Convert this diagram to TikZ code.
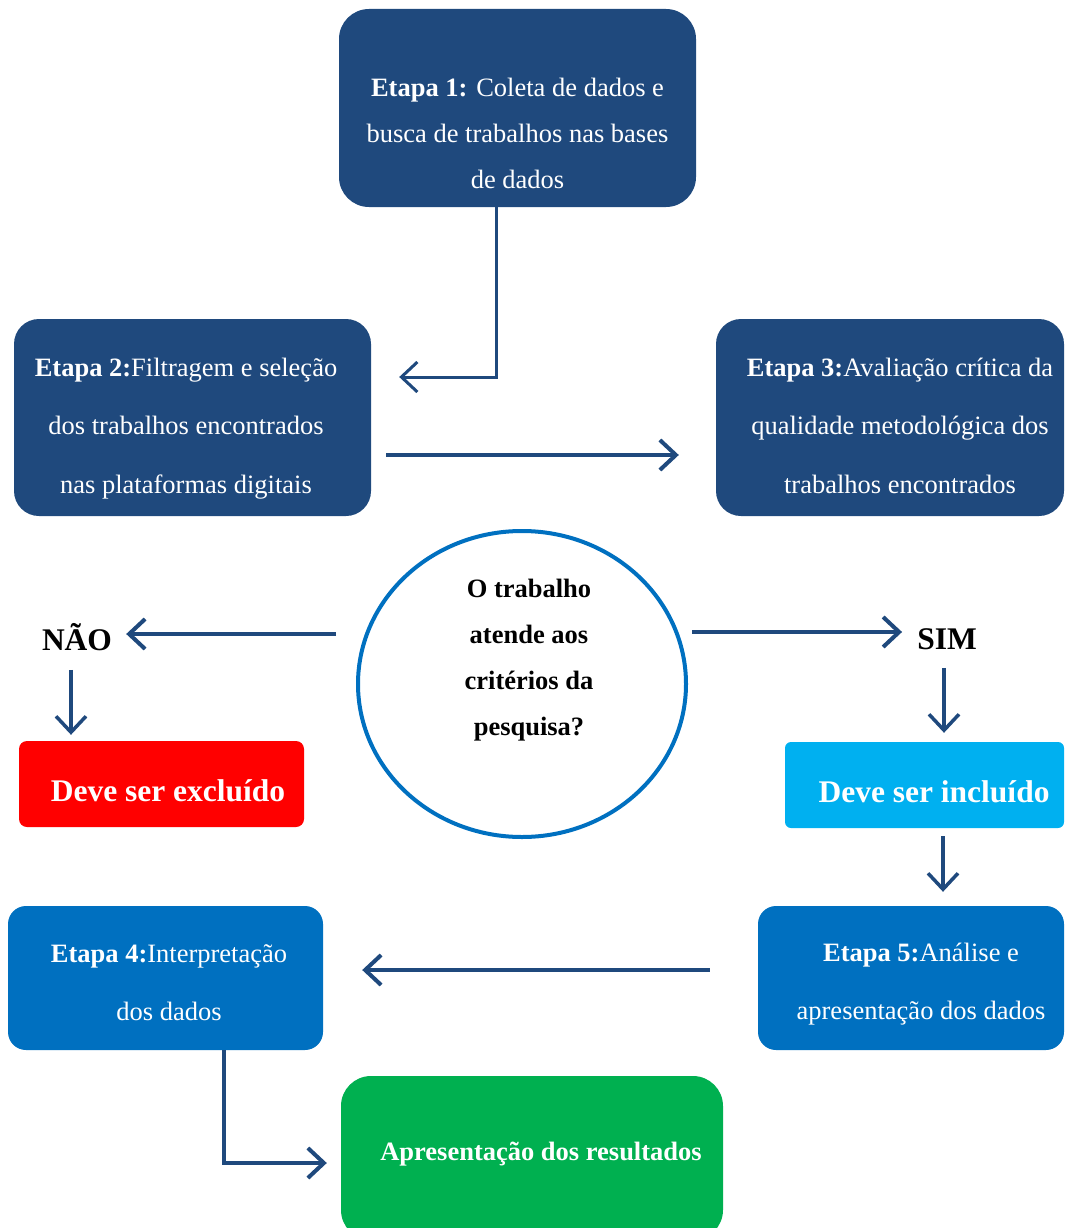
\documentclass[tikz,border=0pt]{standalone}
\usepackage{fontspec}
\setmainfont{Liberation Serif}
\usetikzlibrary{shapes.geometric, arrows.meta, positioning, calc}
\definecolor{etapadark}{RGB}{31,73,125}
\definecolor{etapamid}{RGB}{0,112,192}
\definecolor{incluidocolor}{RGB}{0,176,240}
\definecolor{excluidocolor}{RGB}{255,0,0}
\definecolor{resultadocolor}{RGB}{0,176,80}
\definecolor{flowcolor}{RGB}{31,73,125}

\begin{document}
\begin{tikzpicture}[
    x=1pt, y=-1pt,
    etapabox/.style={fill=etapadark, inner sep=0pt},
    etapatxt/.style={text=white, align=center, inner sep=0pt, font={\fontsize{26.5}{46}\selectfont}},
    etapawide/.style={etapatxt, font={\fontsize{26.5}{58.5}\selectfont}},
    criterio/.style={ellipse, draw=etapamid, line width=4pt, fill=white, minimum width=328, minimum height=306},
    pergunta/.style={align=center, inner sep=0pt, font={\fontsize{26.5}{46}\selectfont\bfseries}},
    decisao/.style={inner sep=0pt, font={\fontsize{31.5}{36}\selectfont\bfseries}},
    resultado/.style={text=white, align=center, inner sep=0pt, font={\fontsize{31.5}{36}\selectfont\bfseries}},
    flow/.style={-{Straight Barb[length=16pt, width=30pt]}, line width=4pt, flowcolor}
]
    \useasboundingbox (0,0) rectangle (1065,1228);

    % Etapas
    \node[etapabox, minimum width=357, minimum height=198, rounded corners=30] (etapa1) at (517.5,108) {};
    \node[etapatxt] (etapa1txt) at (517.5,133) {\textbf{Etapa 1:} Coleta de dados e\\busca de trabalhos nas bases\\de dados};
    \node[etapabox, minimum width=357, minimum height=197, rounded corners=25] (etapa2) at (192.5,417.5) {};
    \node[etapawide] (etapa2txt) at (186,428.5) {\textbf{Etapa 2:}Filtragem e seleção\\dos trabalhos encontrados\\nas plataformas digitais};
    \node[etapabox, minimum width=348, minimum height=197, rounded corners=25] (etapa3) at (890,417.5) {};
    \node[etapawide] (etapa3txt) at (900,425.5) {\textbf{Etapa 3:}Avaliação crítica da\\qualidade metodológica dos\\trabalhos encontrados};

    % Decisao
    \node[criterio] (criterio) at (522,684) {};
    \node[pergunta] (perguntatxt) at (529,660) {O trabalho\\atende aos\\critérios da\\pesquisa?};
    \node[decisao] (nao) at (77,637) {NÃO};
    \node[decisao] (sim) at (947,639) {SIM};
    \node[etapabox, fill=excluidocolor, minimum width=285, minimum height=86, rounded corners=8] (excluido) at (161.5,784) {};
    \node[resultado] (excluidotxt) at (168,791) {Deve ser excluído};
    \node[etapabox, fill=incluidocolor, minimum width=279, minimum height=86, rounded corners=6] (incluido) at (924.5,785) {};
    \node[resultado] (incluidotxt) at (934,792) {Deve ser incluído};

    % Etapas finais
    \node[etapabox, fill=etapamid, minimum width=306, minimum height=144, rounded corners=18] (etapa5) at (911,978) {};
    \node[etapawide] (etapa5txt) at (921,984) {\textbf{Etapa 5:}Análise e\\apresentação dos dados};
    \node[etapabox, fill=etapamid, minimum width=315, minimum height=144, rounded corners=18] (etapa4) at (165.5,978) {};
    \node[etapawide] (etapa4txt) at (169,982.5) {\textbf{Etapa 4:}Interpretação\\dos dados};
    \node[etapabox, fill=resultadocolor, minimum width=382, minimum height=164, rounded corners=30] (final) at (532,1158) {};
    \node[etapatxt, font={\fontsize{26.5}{46}\selectfont\bfseries}] (finaltxt) at (541,1154) {Apresentação dos resultados};

    % Fluxos
    \draw[flow, line width=3pt] ($(etapa1.south)+(-21.5,0)$) |- ($(etapa2.east)+(28,-40.5)$);
    \draw[flow] ($(etapa2.east)+(15,37.5)$) -- ($(etapa3.west)+(-37,37.5)$);
    \draw[flow] ($(criterio.west)+(-20,-50)$) -- ($(nao.east)+(14,-3)$);
    \draw[flow] ($(criterio.east)+(4,-52)$) -- ($(sim.west)+(-15,-7)$);
    \draw[flow, line width=3.5pt] ($(nao.south)+(-6,19)$) -- ($(excluido.north)+(-90.5,-6)$);
    \draw[flow, line width=3.5pt] ($(sim.south)+(-3,18)$) -- ($(incluido.north)+(19.5,-9)$);
    \draw[flow, line width=3.5pt] ($(incluido.south)+(18.5,8)$) -- ($(etapa5.north)+(32,-14)$);
    \draw[flow] ($(etapa5.west)+(-48,-8)$) -- ($(etapa4.east)+(39,-8)$);
    \draw[flow] ($(etapa4.south)+(58.5,0)$) |- ($(final.west)+(-14,5)$);
\end{tikzpicture}
\end{document}
